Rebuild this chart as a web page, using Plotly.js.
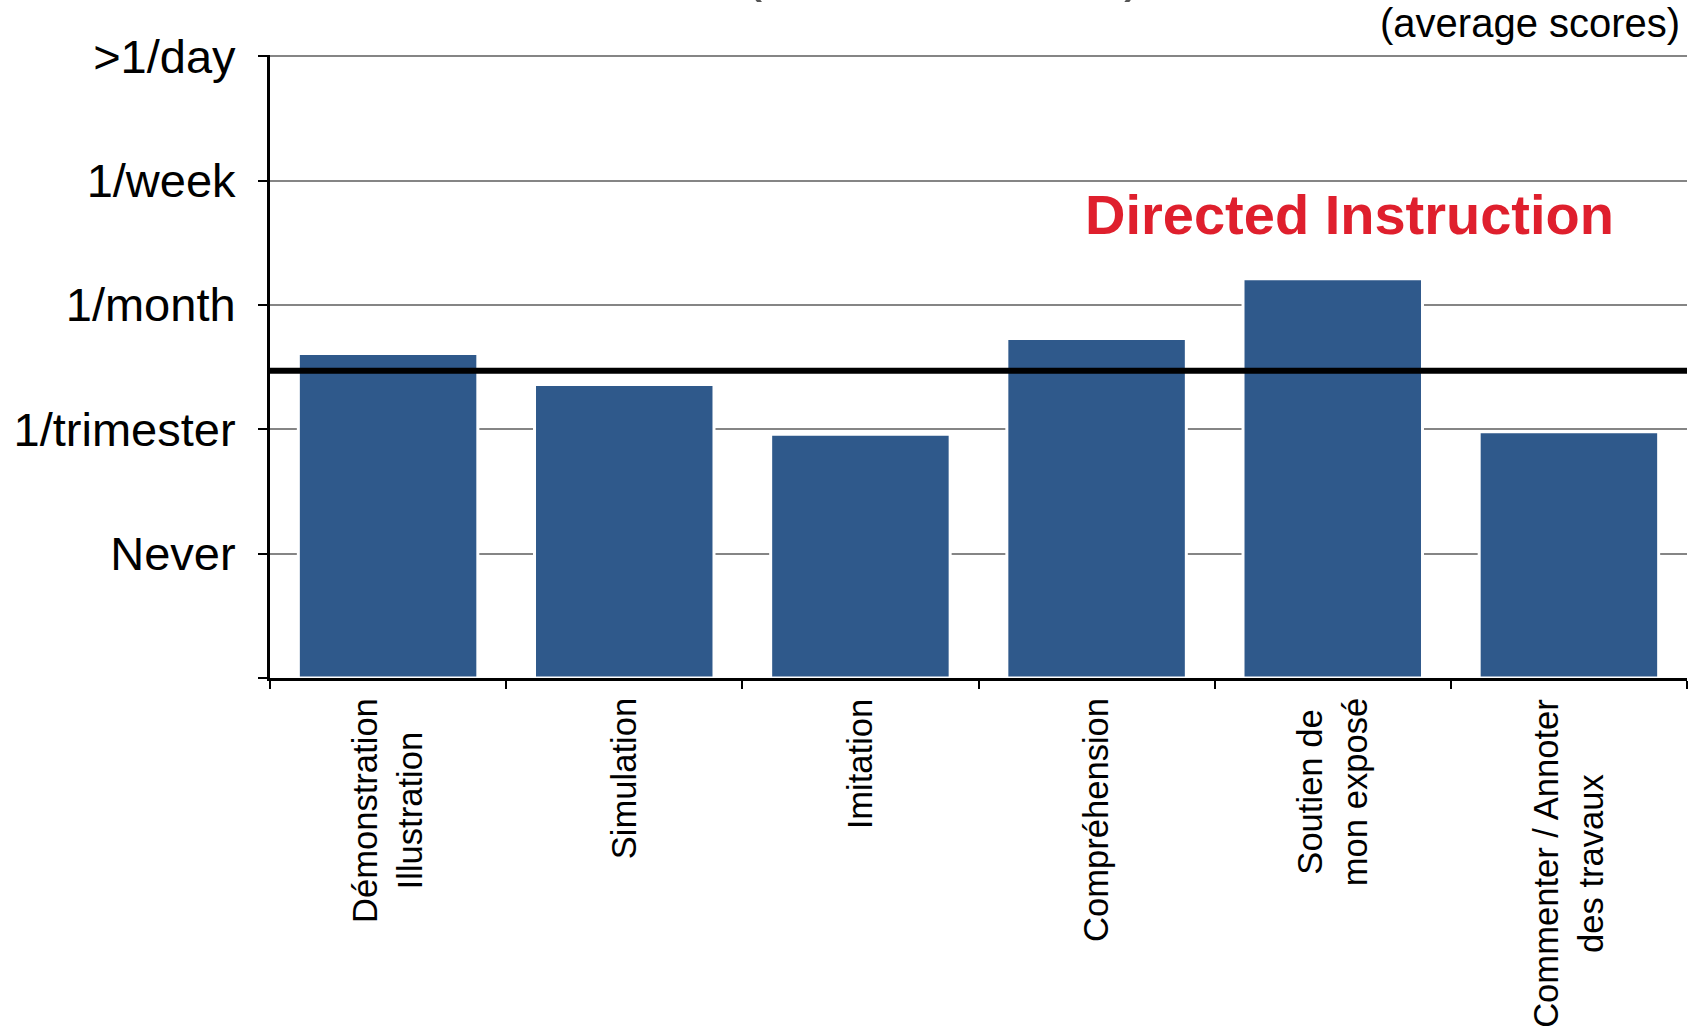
<!DOCTYPE html>
<html><head><meta charset="utf-8">
<script src="https://cdn.plot.ly/plotly-3.0.1.min.js"></script>
<style>html,body{margin:0;padding:0;background:#fff;}#chart{width:1692px;height:1028px;}</style>
</head><body><div id="chart"></div>
<script>
const categories = ["Démonstration<br>Illustration", "Simulation", "Imitation", "Compréhension", "Soutien de<br>mon exposé", "Commenter / Annoter<br>des travaux"];
const scores = [2.61, 2.36, 1.96, 2.73, 3.21, 1.98];
const averageScore = 2.47;
const frequencyTickValues = [0, 1, 2, 3, 4, 5];
const frequencyTickLabels = ["", "Never", "1/trimester", "1/month", "1/week", ">1/day"];
const groupLabel = "Directed Instruction";
const noteLabel = "(average scores)";

const FONT = "Liberation Sans, Arial, Helvetica, sans-serif";

const trace = {
  type: "bar",
  x: categories,
  y: scores,
  width: 0.76,
  marker: {color: "#2F598B", line: {color: "#ffffff", width: 3}},
  hoverinfo: "x+y"
};

// category labels drawn as annotations on the category axis so multi-line labels stay centred
const categoryLabels = categories.map(c => ({
  text: c, xref: "x", yref: "paper", x: c, y: -0.0296,
  xanchor: "center", yanchor: "top", textangle: -90, align: "center",
  showarrow: false, font: {family: FONT, size: 34.6, color: "#000"}
}));

const layout = {
  width: 1692, height: 1028,
  margin: {l: 270, r: 5, t: 55, b: 350},
  paper_bgcolor: "#ffffff", plot_bgcolor: "#ffffff",
  showlegend: false,
  font: {family: FONT, color: "#000"},
  xaxis: {
    type: "category",
    range: [-0.5, 5.5],
    showline: true, linecolor: "#000", linewidth: 3,
    ticks: "outside", tickson: "boundaries", ticklen: 8, tickwidth: 2, tickcolor: "#000",
    showticklabels: false,
    showgrid: false, zeroline: false, fixedrange: true
  },
  yaxis: {
    range: [0, 5.01],
    tickmode: "array", tickvals: frequencyTickValues, ticktext: frequencyTickLabels,
    showline: true, linecolor: "#000", linewidth: 3,
    ticks: "outside", ticklen: 9, tickwidth: 2, tickcolor: "#000",
    ticklabelstandoff: 13,
    tickfont: {family: FONT, size: 47, color: "#000"},
    showgrid: true, gridcolor: "#858585", gridwidth: 2,
    zeroline: false, fixedrange: true
  },
  shapes: [{
    type: "line", xref: "paper", yref: "y",
    x0: 0, x1: 1, y0: averageScore, y1: averageScore,
    line: {color: "#000", width: 6}, layer: "above"
  }],
  annotations: categoryLabels.concat([
    {text: groupLabel, xref: "paper", yref: "paper", x: 0.762, y: 0.744,
     xanchor: "center", yanchor: "middle", showarrow: false,
     font: {family: FONT, size: 56, color: "#DF1F2D", weight: "bold"}},
    {text: noteLabel, xref: "paper", yref: "paper", x: 0.9965, y: 1.0515,
     xanchor: "right", yanchor: "middle", showarrow: false,
     font: {family: FONT, size: 40, color: "#000"}},
    {text: "(", xref: "paper", yref: "paper", x: (752 - 270) / 1417, y: 1.082,
     xanchor: "center", yanchor: "bottom", showarrow: false,
     font: {family: FONT, size: 58, color: "#555"}},
    {text: ")", xref: "paper", yref: "paper", x: (1133 - 270) / 1417, y: 1.082,
     xanchor: "center", yanchor: "bottom", showarrow: false,
     font: {family: FONT, size: 58, color: "#555"}}
  ])
};

Plotly.newPlot("chart", [trace], layout, {displayModeBar: false, staticPlot: true});
</script>
</body></html>
